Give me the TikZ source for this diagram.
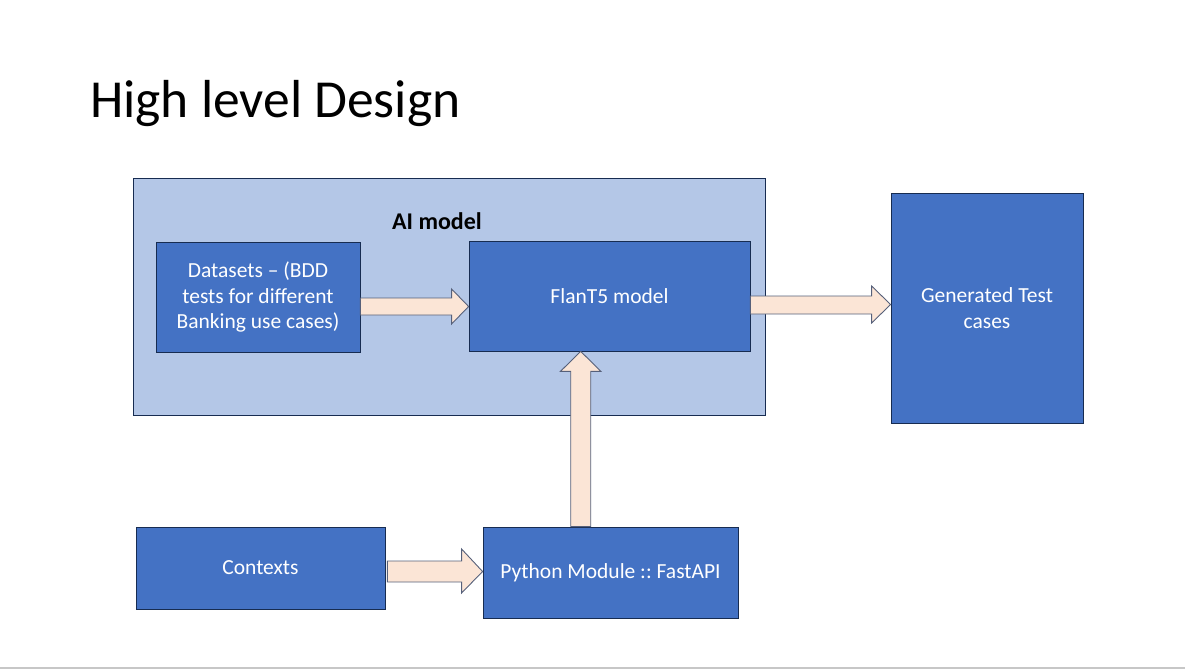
\documentclass[tikz,border=0pt]{standalone}
\usepackage{fontspec}
\setmainfont{Carlito}
\usetikzlibrary{positioning}
\definecolor{boxblue}{HTML}{4472C4}
\definecolor{boxline}{HTML}{172C51}
\definecolor{groupblue}{HTML}{B4C7E7}
\definecolor{arrowfill}{HTML}{FBE5D6}
\definecolor{arrowline}{HTML}{56607A}

\begin{document}
\begin{tikzpicture}[x=1pt,y=-1pt,
    title/.style={
        anchor=base west,
        inner sep=0pt,
        font=\fontsize{53.5}{60}\selectfont
        },
    group/.style={
        draw=boxline,
        line width=0.8pt,
        fill=groupblue,
        inner sep=0pt
        },
    grouplabel/.style={
        font=\fontsize{24}{28}\selectfont\bfseries,
        inner sep=0pt
        },
    box/.style={
        draw=boxline,
        line width=0.8pt,
        fill=boxblue,
        text=white,
        align=center,
        inner sep=0pt,
        font=\fontsize{21.5}{25.5}\selectfont\frenchspacing
        },
    blockarrow/.style={
        draw=arrowline,
        line width=0.9pt,
        fill=arrowfill,
        line join=miter
        },
  ]
  \useasboundingbox (0,0) rectangle (1185,670);
  % Title
  \node[title] (title) at (90,117) {High level Design};
  % AI model group
  \node[group, minimum width=632, minimum height=237] (aimodel) at (449,296.5) {};
  \node[grouplabel] (ailabel) at (437,221) {AI model};
  \node[box, minimum width=204, minimum height=110] (datasets) at (258,297) {Datasets – (BDD\\tests for different\\Banking use cases)};
  \node[box, minimum width=281, minimum height=110] (flan) at (609.5,296) {FlanT5 model};
  % Output
  \node[box, minimum width=192, minimum height=230] (generated) at (987,308) {Generated Test\\cases};
  % Inputs
  \node[box, minimum width=249, minimum height=82] (contexts) at (260.5,568) {Contexts};
  \node[box, minimum width=255, minimum height=91] (python) at (610.5,572.5) {Python Module :: FastAPI};
  % Block arrows
  \draw[blockarrow] (datasets.east |- 0,298) -- ([xshift=-17pt]flan.west |- 0,298)
    -- ([xshift=-17pt]flan.west |- 0,289) -- (flan.west |- 0,306.5)
    -- ([xshift=-17pt]flan.west |- 0,324) -- ([xshift=-17pt]flan.west |- 0,315)
    -- (datasets.east |- 0,315) -- cycle;
  \draw[blockarrow] (python.north -| 570.7,0) -- ([yshift=-20pt]flan.south -| 570.7,0)
    -- ([yshift=-20pt]flan.south -| 560.4,0) -- (flan.south -| 580.7,0)
    -- ([yshift=-20pt]flan.south -| 601,0) -- ([yshift=-20pt]flan.south -| 590.7,0)
    -- (python.north -| 590.7,0) -- cycle;
  \draw[blockarrow] ([xshift=2pt]contexts.east |- 0,561) -- ([xshift=-21pt]python.west |- 0,561)
    -- ([xshift=-21pt]python.west |- 0,549) -- (python.west |- 0,571.5)
    -- ([xshift=-21pt]python.west |- 0,593) -- ([xshift=-21pt]python.west |- 0,582)
    -- ([xshift=2pt]contexts.east |- 0,582) -- cycle;
  \draw[blockarrow] (flan.east |- 0,296) -- ([xshift=-19pt]generated.west |- 0,296)
    -- ([xshift=-19pt]generated.west |- 0,286) -- (generated.west |- 0,304.5)
    -- ([xshift=-19pt]generated.west |- 0,323) -- ([xshift=-19pt]generated.west |- 0,314)
    -- (flan.east |- 0,314) -- cycle;
  % Slide footer line
  \draw[black!22, line width=1.5pt] (0,668) -- (1185,668);
\end{tikzpicture}
\end{document}
